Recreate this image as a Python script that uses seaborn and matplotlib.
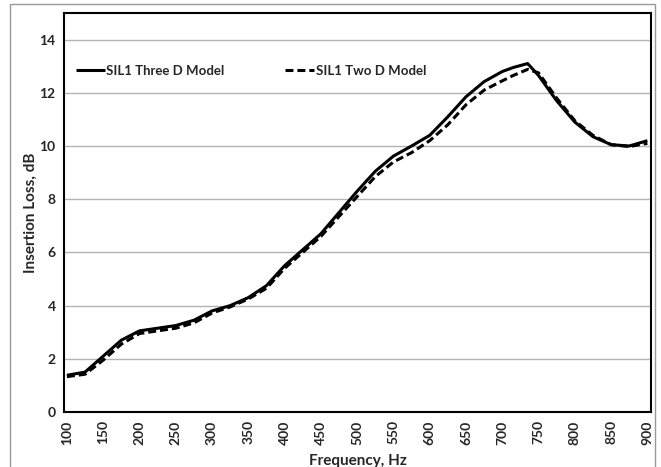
import matplotlib
matplotlib.use("Agg")
import matplotlib.pyplot as plt
import matplotlib.patches as mpatches
import seaborn as sns
import pandas as pd

freq = [100, 125, 150, 175, 200, 225, 250, 275, 300, 325, 350, 375, 400, 425, 450,
        475, 500, 525, 550, 575, 600, 625, 650, 675, 700, 715, 735, 750, 775, 800,
        825, 850, 875, 900]
three_d = [1.38, 1.5, 2.1, 2.7, 3.05, 3.15, 3.25, 3.45, 3.8, 4.0, 4.3, 4.75, 5.5, 6.1, 6.7,
           7.5, 8.3, 9.05, 9.62, 10.0, 10.4, 11.1, 11.85, 12.42, 12.8, 12.95, 13.1, 12.65, 11.7, 10.9,
           10.35, 10.05, 10.0, 10.2]
two_d = [1.33, 1.42, 1.95, 2.55, 2.95, 3.05, 3.15, 3.35, 3.72, 3.95, 4.25, 4.65, 5.4, 6.0, 6.6,
         7.35, 8.1, 8.85, 9.4, 9.75, 10.2, 10.8, 11.55, 12.1, 12.45, 12.65, 12.88, 12.75, 11.8, 10.95,
         10.4, 10.05, 9.98, 10.1]
series_names = ["SIL1 Three D Model", "SIL1 Two D Model"]
x_ticks = list(range(100, 901, 50))
y_ticks = list(range(0, 15, 2))

df = pd.concat([
    pd.DataFrame({"Frequency": freq, "IL": three_d, "Series": series_names[0]}),
    pd.DataFrame({"Frequency": freq, "IL": two_d, "Series": series_names[1]}),
])

sns.set_theme(style="white")
plt.rcParams["font.family"] = ["Lato", "DejaVu Sans"]
plt.rcParams["font.weight"] = "bold"

fig = plt.figure(figsize=(6.61, 4.67), dpi=100)
ax = fig.add_axes([64 / 661, 1 - 412 / 467, (651 - 64) / 661, (412 - 13) / 467])

sns.lineplot(data=df, x="Frequency", y="IL", hue="Series", style="Series",
             palette=["black", "black"], dashes=[(1, 0), (2.6, 1.3)],
             linewidth=2.2, ax=ax, sort=False)

ax.set_xlim(96, 905)
ax.set_ylim(0, 15)
ax.set_xticks(x_ticks)
ax.set_xticklabels([str(t) for t in x_ticks], rotation=90, fontsize=10, fontweight="bold")
ax.set_yticks(y_ticks)
ax.set_yticklabels([str(t) for t in y_ticks], fontsize=10, fontweight="bold")
ax.tick_params(axis="both", length=0, pad=6)
ax.yaxis.grid(True, color="#b3b3b3", linewidth=1)
ax.xaxis.grid(False)
for s in ax.spines.values():
    s.set_color("black")
    s.set_linewidth(1.5)
ax.set_xlabel("Frequency, Hz", fontsize=11, fontweight="bold", labelpad=7)
ax.set_ylabel("Insertion Loss, dB", fontsize=11, fontweight="bold", labelpad=1)

leg = ax.legend(loc="upper left", bbox_to_anchor=(0.0, 0.9), ncol=2, frameon=False,
                fontsize=9.5, handlelength=2.2, handletextpad=0.1, columnspacing=4.6)
for t in leg.get_texts():
    t.set_fontweight("bold")
for h in leg.get_lines():
    h.set_linewidth(2.2)

border = mpatches.Rectangle((10 / 661, -0.1), (655 - 10) / 661, 1.1 - 4 / 467,
                            transform=fig.transFigure, fill=False, edgecolor="#999999",
                            linewidth=1, clip_on=False)
fig.patches.append(border)

fig.savefig("out.png", dpi=100)
